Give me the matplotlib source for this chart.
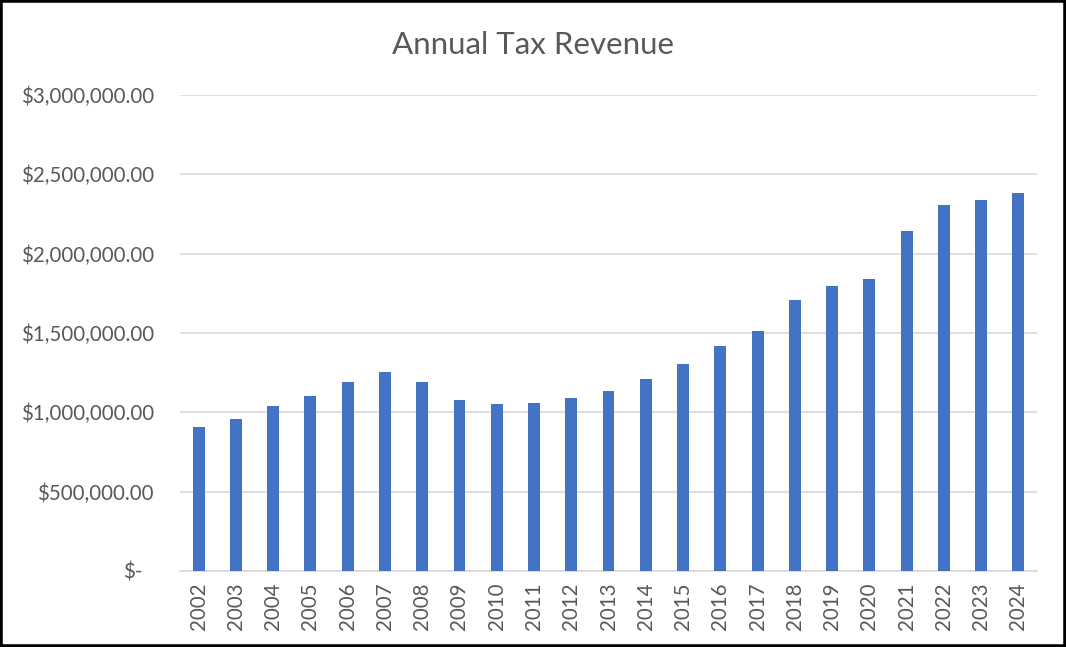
import matplotlib
matplotlib.use("Agg")
import matplotlib.pyplot as plt
from matplotlib.patches import Rectangle
from matplotlib.transforms import ScaledTranslation
from matplotlib.ticker import FuncFormatter

# Annual tax revenue
years = [str(y) for y in range(2002, 2025)]
revenue = [906000, 957000, 1041000, 1104000, 1194000, 1256000, 1192000,
           1075000, 1052000, 1060000, 1090000, 1136000, 1212000, 1306000,
           1421000, 1513000, 1709000, 1793000, 1839000, 2143000, 2305000,
           2337000, 2385000]
yticks = [0, 500000, 1000000, 1500000, 2000000, 2500000, 3000000]

plt.rcParams['font.family'] = ['Lato', 'DejaVu Sans']
grey = '#595959'

fig = plt.figure(figsize=(10.66, 6.47), dpi=100)
ax = fig.add_axes([0.1689, 0.1175, 0.9728 - 0.1689, 0.8532 - 0.1175])

x = range(len(years))
ax.bar(x, revenue, width=0.32, color='#4472C4', zorder=3)

ax.set_xlim(-0.5, len(years) - 0.5)
ax.set_ylim(0, 3000000)
ax.set_yticks(yticks)
ax.set_xticks(list(x))
ax.set_xticklabels(years, rotation=90)

def money(v, pos):
    if v == 0:
        return '$-'
    return '${:,.2f}'.format(v)

ax.yaxis.set_major_formatter(FuncFormatter(money))
ax.grid(axis='y', color='#d9d9d9', linewidth=1.2, zorder=0)
for s in ['top', 'right', 'left']:
    ax.spines[s].set_visible(False)
ax.spines['bottom'].set_color('#d9d9d9')
ax.spines['bottom'].set_linewidth(1.2)
ax.tick_params(axis='both', length=0, colors=grey, labelsize=14.8)
ax.tick_params(axis='y', pad=19)
ax.tick_params(axis='x', pad=8)

# accounting format: the dash sits a little left of the other labels
fig.canvas.draw()
lbl = ax.get_yticklabels()[0]
lbl.set_transform(lbl.get_transform() + ScaledTranslation(-0.11, 0, fig.dpi_scale_trans))

fig.text(0.5, 1 - 45 / 647, 'Annual Tax Revenue', ha='center', va='center',
         fontsize=22.5, color=grey)

fig.patches.append(Rectangle((0, 0), 1, 1, transform=fig.transFigure,
                             fill=False, edgecolor='black', linewidth=4))

fig.savefig('out.png', dpi=100)
